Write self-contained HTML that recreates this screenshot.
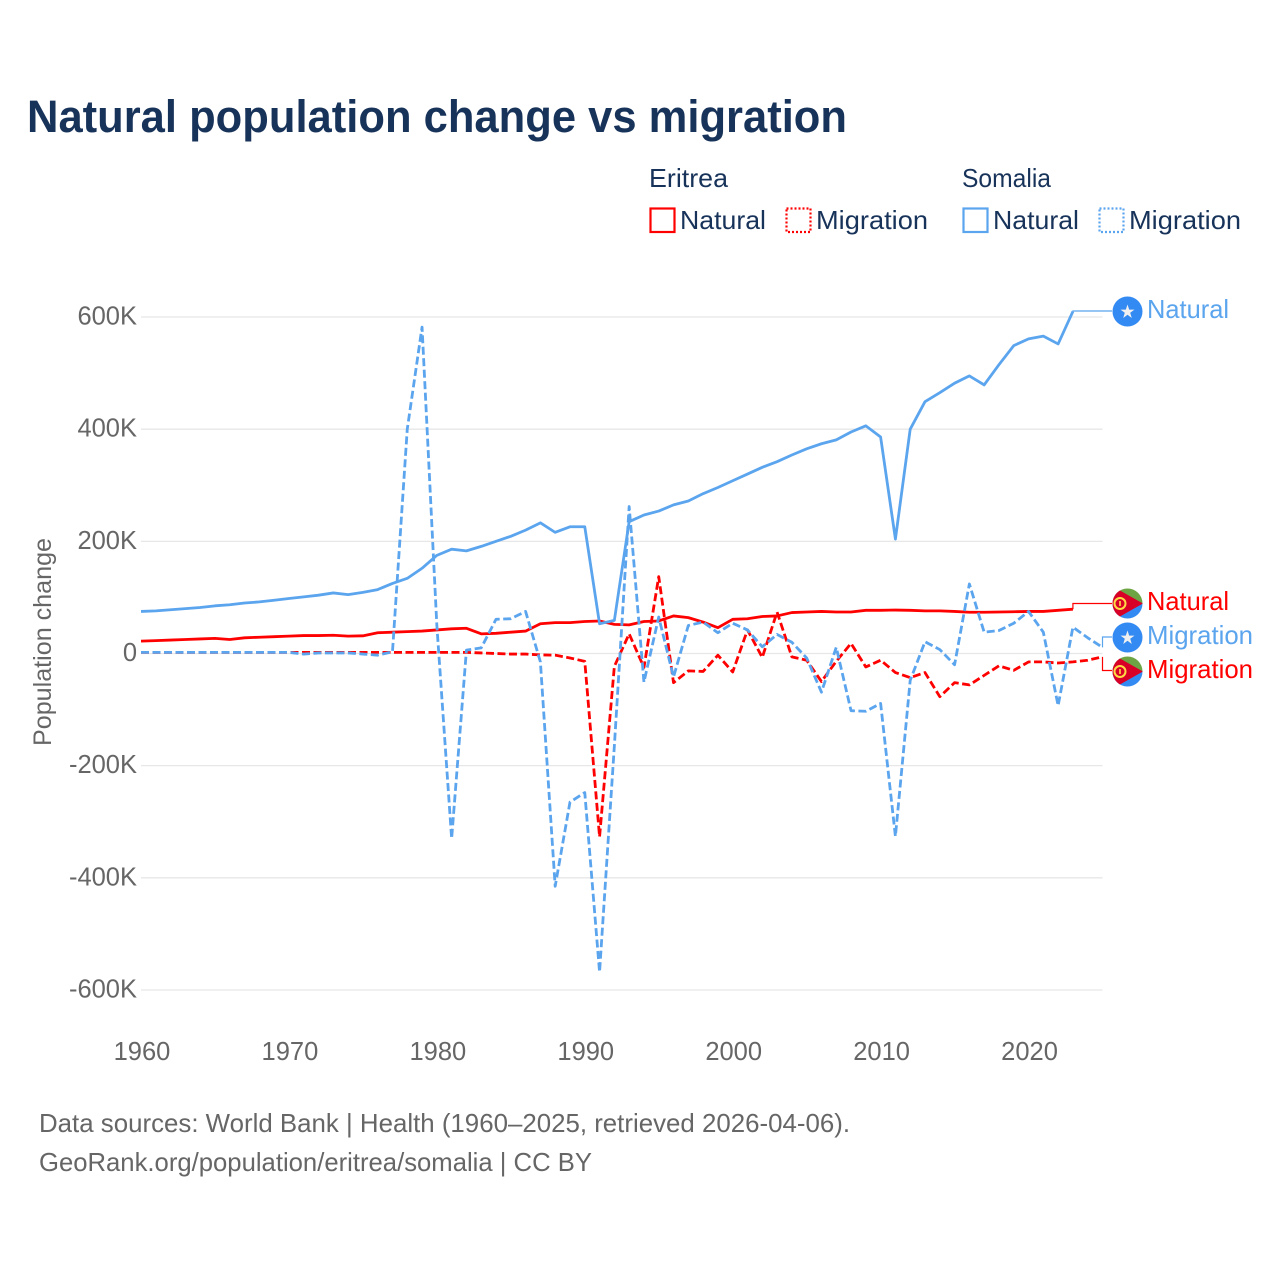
<!DOCTYPE html>
<html lang="en">
<head>
<meta charset="utf-8">
<title>Natural population change vs migration</title>
<style>
html,body{margin:0;padding:0;background:#fff;width:1280px;height:1280px;overflow:hidden}
svg{display:block}
text{font-family:"Liberation Sans",sans-serif}
</style>
</head>
<body>
<svg id="chart" xmlns="http://www.w3.org/2000/svg" width="1280" height="1280" viewBox="0 0 1280 1280">
  <defs>
    <clipPath id="flag-clip-a"><circle cx="1127.5" cy="603.5" r="15"/></clipPath>
    <clipPath id="flag-clip-b"><circle cx="1127.5" cy="671.5" r="15"/></clipPath>
  </defs>
  <rect width="1280" height="1280" fill="#fff"/>
  <text x="27" y="132" font-size="45" font-weight="700" fill="#18335a" textLength="820" lengthAdjust="spacingAndGlyphs">Natural population change vs migration</text>

  <g font-size="26" fill="#18335a">
    <text x="649" y="187" textLength="79" lengthAdjust="spacingAndGlyphs">Eritrea</text>
    <text x="962" y="187" textLength="89" lengthAdjust="spacingAndGlyphs">Somalia</text>
    <rect x="650.5" y="208.5" width="24" height="23.5" fill="none" stroke="#ff0000" stroke-width="2.2"/>
    <text x="680" y="229" textLength="86" lengthAdjust="spacingAndGlyphs">Natural</text>
    <rect x="786.5" y="208.5" width="24" height="23.5" fill="none" stroke="#ff0000" stroke-width="2.2" stroke-dasharray="2,2"/>
    <text x="816" y="229" textLength="112" lengthAdjust="spacingAndGlyphs">Migration</text>
    <rect x="963.5" y="208.5" width="24" height="23.5" fill="none" stroke="#5ba4ee" stroke-width="2.2"/>
    <text x="993" y="229" textLength="86" lengthAdjust="spacingAndGlyphs">Natural</text>
    <rect x="1099.5" y="208.5" width="24" height="23.5" fill="none" stroke="#5ba4ee" stroke-width="2.2" stroke-dasharray="2,2"/>
    <text x="1129" y="229" textLength="112" lengthAdjust="spacingAndGlyphs">Migration</text>
  </g>

  <g id="grid"></g>
  <g id="y-ticks"></g>
  <g id="x-ticks"></g>
  <text transform="translate(51,642) rotate(-90)" text-anchor="middle" font-size="25" fill="#666" textLength="208" lengthAdjust="spacingAndGlyphs">Population change</text>
  <g id="series"></g>
  <g id="connectors"></g>

  <g>
    <g>
      <circle cx="1127.5" cy="311.5" r="15" fill="#338af3"/>
      <polygon points="1127.5,304.5 1129.2,309.6 1134.5,309.6 1130.2,312.8 1131.8,318 1127.5,314.8 1123.2,318 1124.8,312.8 1120.5,309.6 1125.8,309.6" fill="#f0f0f0"/>
    </g>
    <text x="1147" y="318" font-size="26" fill="#5ba4ee" textLength="82" lengthAdjust="spacingAndGlyphs">Natural</text>
  </g>
  <g>
    <g clip-path="url(#flag-clip-a)">
      <rect x="1112" y="588" width="31" height="16" fill="#6da544"/>
      <rect x="1112" y="603.5" width="31" height="16" fill="#338af3"/>
      <polygon points="1112,586 1143,603.5 1112,621" fill="#d80027"/>
      <circle cx="1120" cy="603.5" r="5.5" fill="none" stroke="#ffda44" stroke-width="2"/>
      <rect x="1119.2" y="601" width="1.6" height="5" fill="#ffda44"/>
    </g>
    <text x="1147" y="610" font-size="26" fill="#ff0000" textLength="82" lengthAdjust="spacingAndGlyphs">Natural</text>
  </g>
  <g>
    <g>
      <circle cx="1127.5" cy="637.5" r="15" fill="#338af3"/>
      <polygon points="1127.5,630.5 1129.2,635.6 1134.5,635.6 1130.2,638.8 1131.8,644 1127.5,640.8 1123.2,644 1124.8,638.8 1120.5,635.6 1125.8,635.6" fill="#f0f0f0"/>
    </g>
    <text x="1147" y="644" font-size="26" fill="#5ba4ee" textLength="106" lengthAdjust="spacingAndGlyphs">Migration</text>
  </g>
  <g>
    <g clip-path="url(#flag-clip-b)">
      <rect x="1112" y="656" width="31" height="16" fill="#6da544"/>
      <rect x="1112" y="671.5" width="31" height="16" fill="#338af3"/>
      <polygon points="1112,654 1143,671.5 1112,689" fill="#d80027"/>
      <circle cx="1120" cy="671.5" r="5.5" fill="none" stroke="#ffda44" stroke-width="2"/>
      <rect x="1119.2" y="669" width="1.6" height="5" fill="#ffda44"/>
    </g>
    <text x="1147" y="678" font-size="26" fill="#ff0000" textLength="106" lengthAdjust="spacingAndGlyphs">Migration</text>
  </g>

  <g font-size="26" fill="#666">
    <text x="39" y="1132" textLength="811" lengthAdjust="spacingAndGlyphs">Data sources: World Bank | Health (1960–2025, retrieved 2026-04-06).</text>
    <text x="39" y="1171" textLength="553" lengthAdjust="spacingAndGlyphs">GeoRank.org/population/eritrea/somalia | CC BY</text>
  </g>
</svg>
<script>
const years = [1960,1961,1962,1963,1964,1965,1966,1967,1968,1969,1970,1971,1972,1973,1974,1975,1976,1977,1978,1979,1980,1981,1982,1983,1984,1985,1986,1987,1988,1989,1990,1991,1992,1993,1994,1995,1996,1997,1998,1999,2000,2001,2002,2003,2004,2005,2006,2007,2008,2009,2010,2011,2012,2013,2014,2015,2016,2017,2018,2019,2020,2021,2022,2023,2024,2025];
const yTickValues = [600,400,200,0,-200,-400,-600];
const yTickLabels = ["600K","400K","200K","0","-200K","-400K","-600K"];
const xTickYears = [1960,1970,1980,1990,2000,2010,2020];
const xTickLabels = ["1960","1970","1980","1990","2000","2010","2020"];

// values in thousands of people
const somaliaNatural = [75,76,78,80,82,85,87,90,92,95,98,101,104,108,105,109,114,125,134,152,175,186,183,191,200,209,220,233,216,226,226,53,59,235,247,254,265,272,285,296,308,320,332,342,354,365,374,381,395,406,386,204,400,449,465,482,495,479,515,549,561,566,552,610];
const eritreaNatural = [22,23,24,25,26,27,25,28,29,30,31,32,32,32.5,31,31.5,37,38,39,40,42,44,45,35,36,38,40,53,55,55,57,58,52,51,57,58,67,64,56,46,61,62,66,67,73,74,75,74,74,77,77,77.5,77,76,76,75,73.5,73.5,74,74.5,75,75,77,79];
const eritreaMigration = [2,2,2,2,2,2,2,2,2,2,2,2,2,2,2,2,2,2,2,2,2,2,2,1,0,-1,-1,-2.5,-3,-8,-14,-327,-23,35,-25,137,-52,-31,-32,-3,-33,42,-7,74,-6,-12,-50,-14,18,-24,-12,-34,-43,-34,-77,-52,-56,-39,-22,-30,-15,-15,-17,-15,-12,-6];
const somaliaMigration = [2,2,2,2,2,2,2,2,2,2,2,-1,1,1,1,-1,-3,3,400,582,50,-330,6,10,61,62,75,-15,-415,-265,-248,-568,-165,262,-51,65,-42,50,56,37,54,42,12,34,20,-8,-69,11,-102,-103,-89,-326,-48,21,7,-20,124,38,41,54,75,38,-93,47,28,11];

const NS = 'http://www.w3.org/2000/svg';
const PLOT_LEFT = 141;
const PLOT_RIGHT = 1102.5;
const xScale = function (year) {
  return PLOT_LEFT + (year - years[0]) * (PLOT_RIGHT - PLOT_LEFT) / (years[years.length - 1] - years[0]);
};
const yScale = function (k) {
  return 653.5 - k * 0.5608;
};
const BLUE = '#5ba4ee';
const RED = '#ff0000';

const gridGroup = document.getElementById('grid');
const yGroup = document.getElementById('y-ticks');
yTickValues.forEach(function (v, i) {
  const line = document.createElementNS(NS, 'line');
  
  
  line.setAttribute('x1', PLOT_LEFT);
  line.setAttribute('x2', PLOT_RIGHT);
  line.setAttribute('y1', yScale(v));
  line.setAttribute('y2', yScale(v));
  line.setAttribute('stroke', '#e7e7e7');
  line.setAttribute('stroke-width', '1.3');
  gridGroup.appendChild(line);

  const t = document.createElementNS(NS, 'text');
  
  
  t.setAttribute('x', 137);
  t.setAttribute('y', yScale(v) + 7.5);
  t.setAttribute('text-anchor', 'end');
  t.setAttribute('font-size', '25.5');
  t.setAttribute('fill', '#666');
  t.textContent = yTickLabels[i];
  yGroup.appendChild(t);
});

const xGroup = document.getElementById('x-ticks');
xTickYears.forEach(function (yr, i) {
  const t = document.createElementNS(NS, 'text');
  
  
  t.setAttribute('x', xScale(yr) + 1);
  t.setAttribute('y', 1060);
  t.setAttribute('text-anchor', 'middle');
  t.setAttribute('font-size', '25.5');
  t.setAttribute('fill', '#666');
  t.textContent = xTickLabels[i];
  xGroup.appendChild(t);
});

function linePath(values) {
  return values.map(function (v, i) {
    return (i === 0 ? 'M' : 'L') + xScale(years[i]).toFixed(2) + ' ' + yScale(v).toFixed(2);
  }).join(' ');
}

const seriesGroup = document.getElementById('series');
function drawSeries(name, values, color, dashed) {
  const p = document.createElementNS(NS, 'path');
  
  
  p.setAttribute('d', linePath(values));
  p.setAttribute('fill', 'none');
  p.setAttribute('stroke', color);
  p.setAttribute('stroke-width', '2.8');
  p.setAttribute('stroke-linejoin', 'round');
  if (dashed) p.setAttribute('stroke-dasharray', '8,3.5');
  seriesGroup.appendChild(p);
}
drawSeries('line-eritrea-migration', eritreaMigration, RED, true);
drawSeries('line-eritrea-natural', eritreaNatural, RED, false);
drawSeries('line-somalia-migration', somaliaMigration, BLUE, true);
drawSeries('line-somalia-natural', somaliaNatural, BLUE, false);

const connectorGroup = document.getElementById('connectors');
function drawConnector(name, values, color, labelY) {
  const last = values.length - 1;
  const c = document.createElementNS(NS, 'path');
  
  
  c.setAttribute('d', 'M' + xScale(years[last]).toFixed(2) + ' ' + yScale(values[last]).toFixed(2) + ' V' + labelY + ' H1112');
  c.setAttribute('fill', 'none');
  c.setAttribute('stroke', color);
  c.setAttribute('stroke-width', '1.2');
  connectorGroup.appendChild(c);
}
drawConnector('connector-somalia-natural', somaliaNatural, BLUE, 311);
drawConnector('connector-eritrea-natural', eritreaNatural, RED, 603.5);
drawConnector('connector-somalia-migration', somaliaMigration, BLUE, 637);
drawConnector('connector-eritrea-migration', eritreaMigration, RED, 670.5);
</script>
</body>
</html>
